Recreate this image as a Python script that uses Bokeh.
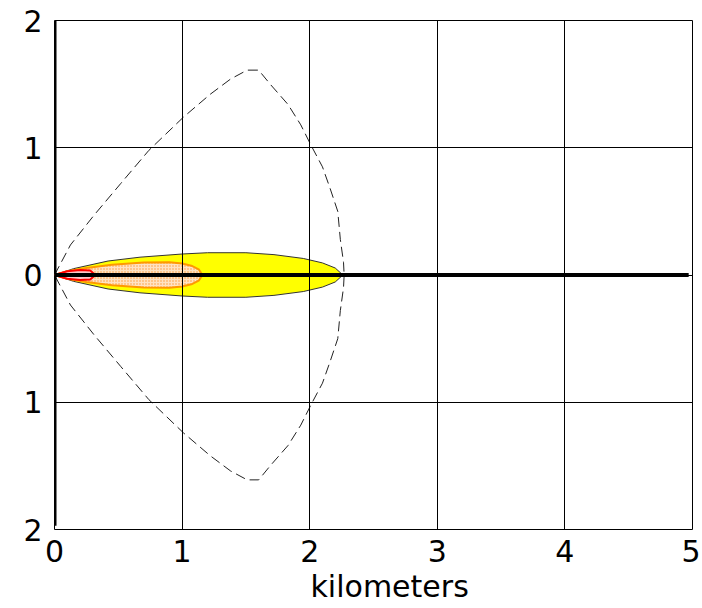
from bokeh.plotting import figure
from bokeh.models import Range1d, FixedTicker, Title
from bokeh.embed import file_html
from bokeh.resources import INLINE

# ---- data (km) ----
x_ticks = [0, 1, 2, 3, 4, 5]
y_ticks = [-2, -1, 0, 1, 2]
y_tick_labels = {-2: "2", -1: "1", 0: "0", 1: "1", 2: "2"}
x_title = "kilometers"

# threat zones: downwind distance and half-width (symmetric about wind axis)
yellow_x = [0, 0.15, 0.42, 0.67, 1.0, 1.2, 1.5, 1.72, 1.95, 2.1, 2.2, 2.26]
yellow_hw = [0, 0.05, 0.11, 0.14, 0.165, 0.175, 0.175, 0.16, 0.13, 0.095, 0.055, 0]

orange_x = [0, 0.1, 0.25, 0.45, 0.7, 0.9, 1.0, 1.08, 1.13, 1.16]
orange_hw = [0, 0.03, 0.055, 0.08, 0.098, 0.1, 0.09, 0.07, 0.045, 0]

red_x = [0, 0.1, 0.2, 0.28, 0.32]
red_hw = [0, 0.03, 0.04, 0.035, 0]

# wind-direction confidence lines (upper half, mirrored below)
conf_x = [0, 0.125, 0.31, 0.52, 0.74, 1.01, 1.22, 1.38, 1.51, 1.60, 1.69, 1.83,
          1.93, 2.01, 2.10, 2.16, 2.22, 2.24, 2.265, 2.27]
conf_y = [0, 0.236, 0.47, 0.72, 0.98, 1.24, 1.42, 1.54, 1.61, 1.61, 1.50, 1.34,
          1.18, 1.02, 0.85, 0.68, 0.50, 0.28, 0.10, 0]

wind_x = [0, 4.97]
wind_y = [0, 0]
src_x = [0, 0]
src_y = [-1.97, 2]

FONT = "DejaVu Sans"


def closed(xs, hw):
    px = list(xs) + list(reversed(xs))
    py = list(hw) + [-v for v in reversed(hw)]
    return px, py


p = figure(width=700, height=608, output_backend="svg", toolbar_location=None,
           x_range=Range1d(0, 5), y_range=Range1d(-2, 2),
           min_border_left=54, min_border_right=8, min_border_top=20,
           min_border_bottom=79)
p.background_fill_color = "white"
p.border_fill_color = "white"
p.outline_line_color = "black"
p.outline_line_width = 1

# zones
yx, yy = closed(yellow_x, yellow_hw)
p.patch(yx, yy, fill_color="#FFFF00", line_color="#333333", line_width=1)
ox, oy = closed(orange_x, orange_hw)
p.patch(ox, oy, fill_color="#FFE2C4", line_color="#FF9900", line_width=2,
        hatch_pattern="dot", hatch_color="#FF9933", hatch_scale=3, hatch_weight=1)
rx, ry = closed(red_x, red_hw)
p.patch(rx, ry, fill_color="#FFC8C8", line_color="#FF0000", line_width=2)

# confidence lines
cx, cy = closed(conf_x, conf_y)
p.line(cx, cy, line_color="#222222", line_width=1, line_dash="10 5")

# wind axis and source axis
p.line(wind_x, wind_y, line_color="black", line_width=4)
p.line(src_x, src_y, line_color="black", line_width=4)

# axes
for ax in (p.xaxis[0], p.yaxis[0]):
    ax.axis_line_color = None
    ax.major_tick_line_color = None
    ax.minor_tick_line_color = None
    ax.major_tick_out = 0
    ax.major_tick_in = 0
    ax.major_label_text_font = FONT
    ax.major_label_text_font_size = "30px"
    ax.major_label_text_color = "black"

p.xaxis.ticker = FixedTicker(ticks=x_ticks)
p.yaxis.ticker = FixedTicker(ticks=y_ticks)
p.yaxis.major_label_overrides = y_tick_labels
p.xaxis.major_label_standoff = 10
p.yaxis.major_label_standoff = 12

p.xgrid.ticker = FixedTicker(ticks=x_ticks)
p.ygrid.ticker = FixedTicker(ticks=y_ticks)
for g in (p.xgrid[0], p.ygrid[0]):
    g.grid_line_color = "black"
    g.grid_line_width = 1
    g.grid_line_alpha = 1.0
    g.level = "guide"

p.add_layout(Title(text=x_title, align="left", offset=256, standoff=4,
                   text_font=FONT, text_font_size="30px",
                   text_font_style="normal", text_color="black"), "below")

open("out.html", "w").write(file_html(p, INLINE))
